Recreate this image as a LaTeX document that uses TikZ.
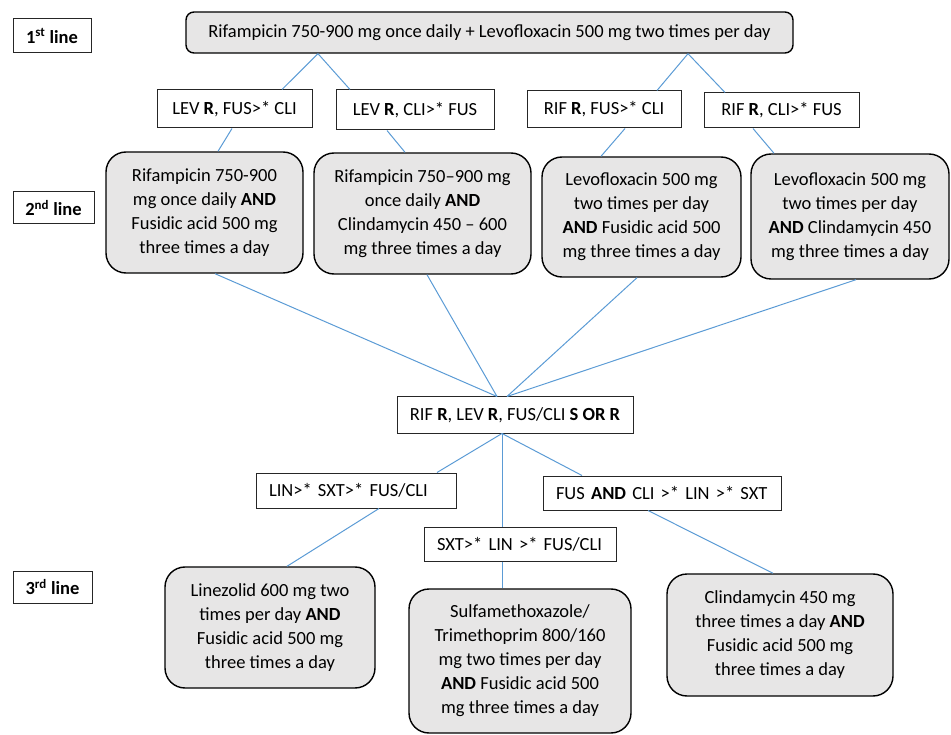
\documentclass[tikz,border=0pt]{standalone}
\usepackage{fontspec}
\setmainfont{Carlito}
\definecolor{boxgray}{HTML}{E7E6E6}
\definecolor{lineblue}{HTML}{5B9BD5}
\begin{document}
\begin{tikzpicture}[x=1pt,y=-1pt,
  every node/.style={font=\fontsize{18.5}{24}\selectfont, inner sep=0pt},
  rbox/.style={draw=black, line width=1.4pt, fill=boxgray, rounded corners=20pt, align=center},
  cbox/.style={draw=black!85, line width=1pt, align=center},
  lbox/.style={draw=black!85, line width=1pt, align=left, inner xsep=13pt},
  lbl/.style={draw=black!85, line width=1pt, font=\fontsize{18.5}{24}\selectfont\bfseries},
  conn/.style={draw=lineblue, line width=1pt}]
\useasboundingbox (0,0) rectangle (951,735);

% row labels
\node[lbl, minimum width=78pt, minimum height=34pt] (l1) at (52,36) {1\textsuperscript{st} line};
\node[lbl, minimum width=81pt, minimum height=32pt] (l2) at (53.5,208) {2\textsuperscript{nd} line};
\node[lbl, minimum width=79pt, minimum height=32pt] (l3) at (52.5,587) {3\textsuperscript{rd} line};

% first line
\node[rbox, rounded corners=8pt, minimum width=607pt, minimum height=41pt] (top) at (489.5,32.5)
  {Rifampicin 750-900 mg once daily + Levofloxacin 500 mg two times per day};

% condition boxes level 1
\node[cbox, minimum width=155pt, minimum height=38pt] (levf) at (234.5,109) {LEV \textbf{R}, FUS>* CLI};
\node[cbox, minimum width=158pt, minimum height=40pt] (levc) at (415,110) {LEV \textbf{R}, CLI>* FUS};
\node[cbox, minimum width=154pt, minimum height=37pt] (riff) at (604,109.5) {RIF \textbf{R}, FUS>* CLI};
\node[cbox, minimum width=155pt, minimum height=35pt] (rifc) at (781.5,110.5) {RIF \textbf{R}, CLI>* FUS};

% second line
\node[rbox, minimum width=197pt, minimum height=121pt] (sa) at (204.5,212.5)
  {Rifampicin 750-900\\ mg once daily \textbf{AND}\\ Fusidic acid 500 mg\\ three times a day};
\node[rbox, minimum width=217pt, minimum height=121pt] (sb) at (422.5,213.5)
  {Rifampicin 750–900 mg\\ once daily \textbf{AND}\\ Clindamycin 450 – 600\\ mg three times a day};
\node[rbox, minimum width=199pt, minimum height=120pt] (sc) at (641.5,217)
  {Levofloxacin 500 mg\\ two times per day\\ \textbf{AND} Fusidic acid 500\\ mg three times a day};
\node[rbox, minimum width=198pt, minimum height=125pt] (sd) at (850,216.5)
  {Levofloxacin 500 mg\\ two times per day\\ \textbf{AND} Clindamycin 450\\ mg three times a day};

% middle
\node[cbox, minimum width=236pt, minimum height=36pt] (mid) at (515,415)
  {RIF \textbf{R}, LEV \textbf{R}, FUS/CLI \textbf{S OR R}};

% condition boxes level 3
\node[lbox, text width=174pt, minimum height=35pt] (lin) at (356,490.5) {LIN>* SXT>* FUS/CLI};
\node[lbox, text width=212pt, minimum height=34pt] (fus) at (662,493) {FUS \textbf{AND} CLI >* LIN >* SXT};
\node[lbox, text width=166pt, minimum height=34pt] (sxt) at (520,544) {SXT>* LIN >* FUS/CLI};

% third line
\node[rbox, minimum width=210pt, minimum height=121pt] (tl) at (270,627.5)
  {Linezolid 600 mg two\\ times per day \textbf{AND}\\ Fusidic acid 500 mg\\ three times a day};
\node[rbox, minimum width=222pt, minimum height=144pt] (ts) at (520,661)
  {Sulfamethoxazole/\\ Trimethoprim 800/160\\ mg two times per day\\ \textbf{AND} Fusidic acid 500\\ mg three times a day};
\node[rbox, minimum width=226pt, minimum height=122pt] (tc) at (780,635)
  {Clindamycin 450 mg\\ three times a day \textbf{AND}\\ Fusidic acid 500 mg\\ three times a day};

% connectors
\draw[conn] ([xshift=-171.5pt]top.south) -- ([xshift=47.5pt]levf.north);
\draw[conn] ([xshift=-171.5pt]top.south) -- ([xshift=-65pt]levc.north);
\draw[conn] ([xshift=198.5pt]top.south) -- ([xshift=53pt]riff.north);
\draw[conn] ([xshift=198.5pt]top.south) -- ([xshift=-56.5pt]rifc.north);

\draw[conn] ([xshift=-2.5pt]levf.south) -- ([xshift=13.5pt]sa.north);
\draw[conn] ([xshift=-28pt]levc.south) -- ([xshift=-17.5pt]sb.north);
\draw[conn] ([xshift=21pt]riff.south) -- ([xshift=-40.5pt]sc.north);
\draw[conn] ([xshift=-28.5pt]rifc.south) -- ([xshift=-76pt]sd.north);

\draw[conn] ([xshift=10.5pt]sa.south) -- ([xshift=-18pt]mid.north);
\draw[conn] ([xshift=4.5pt]sb.south) -- ([xshift=-18pt]mid.north);
\draw[conn] ([xshift=-4.5pt]sc.south) -- ([xshift=-8pt]mid.north);
\draw[conn] ([xshift=6pt]sd.south) -- ([xshift=-8pt]mid.north);

\draw[conn] ([xshift=-13pt]mid.south) -- ([xshift=81pt]lin.north);
\draw[conn] ([xshift=-13pt]mid.south) -- ([xshift=-18pt]sxt.north);
\draw[conn] ([xshift=-13pt]mid.south) -- ([xshift=-80pt]fus.north);

\draw[conn] ([xshift=23pt]lin.south) -- ([xshift=17pt]tl.north);
\draw[conn] ([xshift=-18pt]sxt.south) -- ([xshift=-18pt]ts.north);
\draw[conn] ([xshift=-14pt]fus.south) -- ([xshift=-7pt]tc.north);
\end{tikzpicture}
\end{document}
